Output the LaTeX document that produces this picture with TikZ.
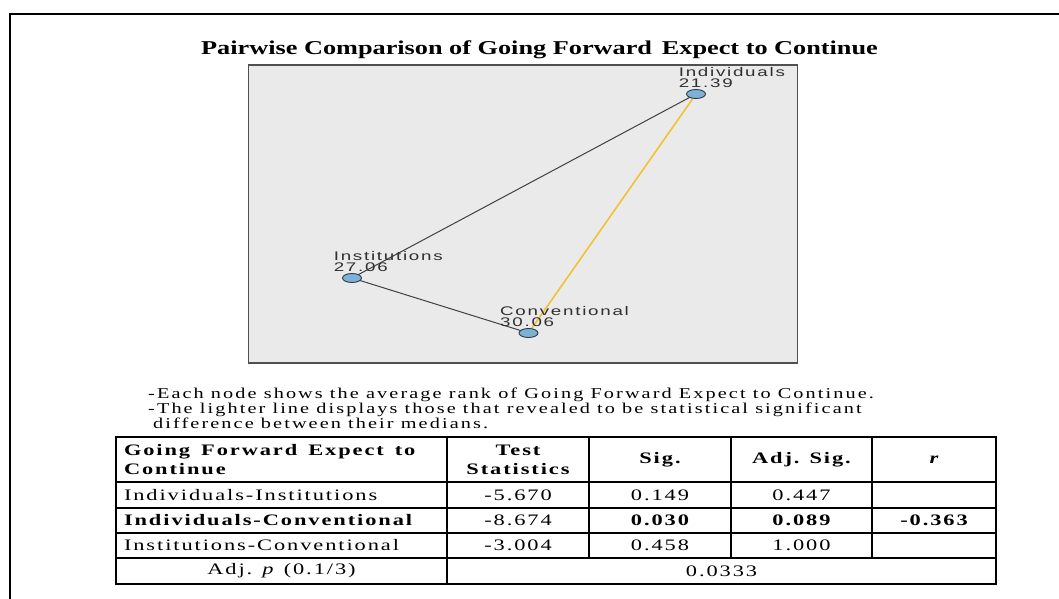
\documentclass[tikz,border=0pt]{standalone}
\usepackage{fontspec}
\setmainfont{Liberation Serif}
\newfontfamily\titlefont[FakeStretch=1.34]{Liberation Serif}
\newfontfamily\notefont[FakeStretch=1.35,LetterSpace=14]{Liberation Serif}
\newfontfamily\tabfont[FakeStretch=1.4,LetterSpace=12]{Liberation Serif}
\newfontfamily\lblfont[FakeStretch=1.5,LetterSpace=14]{Liberation Sans}
\usetikzlibrary{positioning,backgrounds,shapes.geometric}
\definecolor{panelgray}{HTML}{EAEAEA}
\definecolor{panelrim}{HTML}{505050}
\definecolor{grpblue}{HTML}{7DB1D5}
\definecolor{grprim}{HTML}{2F3B44}
\definecolor{edgegray}{HTML}{404040}
\definecolor{sigyellow}{HTML}{F2C232}
\definecolor{lbltext}{HTML}{303030}
\tikzset{
  % ram och rubrik
  frame/.style={draw=black,line width=2.4pt},
  ttl/.style={anchor=base,inner sep=0pt,font=\titlefont\bfseries\fontsize{19.6}{24}\selectfont},
  % graf
  panel/.style={draw=panelrim,fill=panelgray,line width=1.2pt,inner sep=0pt},
  grp/.style={ellipse,draw=grprim,fill=grpblue,line width=0.9pt,inner sep=0pt,
              minimum width=19pt,minimum height=9pt},
  grplbl/.style={anchor=south west,inner sep=0pt,align=left,text=lbltext,
                 font=\lblfont\fontsize{12.5}{11.5}\selectfont},
  pe/.style={draw=edgegray,line width=1pt},
  sige/.style={draw=sigyellow,line width=1.6pt},
  note/.style={anchor=base west,inner sep=0pt,font=\notefont\fontsize{15}{15}\selectfont},
  % tabell
  cell/.style={draw=black,line width=2.4pt,inner sep=0pt,align=center,
               font=\tabfont\fontsize{16}{19}\selectfont},
  lcell/.style={align=left,text width=315pt,inner xsep=8pt},
  hcell/.style={cell,minimum height=45pt,font=\tabfont\bfseries\fontsize{16}{19}\selectfont},
}
\begin{document}
\begin{tikzpicture}[x=1pt,y=-1pt]
  \useasboundingbox (0,0) rectangle (1059,599);
  \draw[frame] (10,599) -- (10,14) -- (1059,14);
  \node[ttl] (title) at (539.5,55) {Pairwise Comparison of Going Forward\, Expect to Continue};
  % graf
  \node[grp] (ind) at (696,94) {};
  \node[grp] (ins) at (352,278) {};
  \node[grp] (con) at (528.5,333) {};
  \node[grplbl] (indl) at (678.6,88) {Individuals\\21.39};
  \node[grplbl] (insl) at (333.6,272) {Institutions\\27.06};
  \node[grplbl] (conl) at (500,327) {Conventional\\30.06};
  \begin{scope}[on background layer]
  \node[panel,minimum width=549pt,minimum height=298pt] (plot) at (523,214) {};
  \draw[pe] (ind.center) -- (ins.center);
  \draw[pe] (ins.center) -- (con.center);
  \draw[sige] (ind.center) -- (con.center);
  \end{scope}
  % noter
  \node[note] (n1) at (148,398) {-Each node shows the average rank of Going Forward Expect to Continue.};
  \node[note] (n2) at (148,413) {-The lighter line displays those that revealed to be statistical significant};
  \node[note] (n3) at (153,428) {difference between their medians.};
  % tabell
  \node[hcell,lcell] (h1) at (281.5,459.5) {\spaceskip=11pt Going Forward Expect to\\Continue};
  \node[hcell,minimum width=142pt] (h2) at (518,459.5) {Test\\Statistics};
  \node[hcell,minimum width=142pt] (h3) at (660,459.5) {Sig.};
  \node[hcell,minimum width=141pt] (h4) at (801.5,459.5) {Adj. Sig.};
  \node[hcell,minimum width=124pt] (h5) at (934,459.5) {\itshape r};
  \node[cell,lcell,minimum height=26pt] (a1) at (281.5,495) {Individuals-Institutions};
  \node[cell,minimum width=142pt,minimum height=26pt] (a2) at (518,495) {-5.670};
  \node[cell,minimum width=142pt,minimum height=26pt] (a3) at (660,495) {0.149};
  \node[cell,minimum width=141pt,minimum height=26pt] (a4) at (801.5,495) {0.447};
  \node[cell,minimum width=124pt,minimum height=26pt] (a5) at (934,495) {};
  \node[cell,lcell,minimum height=25pt] (b1) at (281.5,520.5) {\bfseries Individuals-Conventional};
  \node[cell,minimum width=142pt,minimum height=25pt] (b2) at (518,520.5) {-8.674};
  \node[cell,minimum width=142pt,minimum height=25pt] (b3) at (660,520.5) {\bfseries 0.030};
  \node[cell,minimum width=141pt,minimum height=25pt] (b4) at (801.5,520.5) {\bfseries 0.089};
  \node[cell,minimum width=124pt,minimum height=25pt] (b5) at (934,520.5) {\bfseries -0.363};
  \node[cell,lcell,minimum height=25pt] (c1) at (281.5,545.5) {Institutions-Conventional};
  \node[cell,minimum width=142pt,minimum height=25pt] (c2) at (518,545.5) {-3.004};
  \node[cell,minimum width=142pt,minimum height=25pt] (c3) at (660,545.5) {0.458};
  \node[cell,minimum width=141pt,minimum height=25pt] (c4) at (801.5,545.5) {1.000};
  \node[cell,minimum width=124pt,minimum height=25pt] (c5) at (934,545.5) {};
  \node[cell,minimum width=331pt,minimum height=26pt] (d1) at (281.5,571) {Adj. {\itshape p}\, (0.1/3)};
  \node[cell,minimum width=549pt,minimum height=26pt] (d2) at (721.5,571) {0.0333};
\end{tikzpicture}
\end{document}
